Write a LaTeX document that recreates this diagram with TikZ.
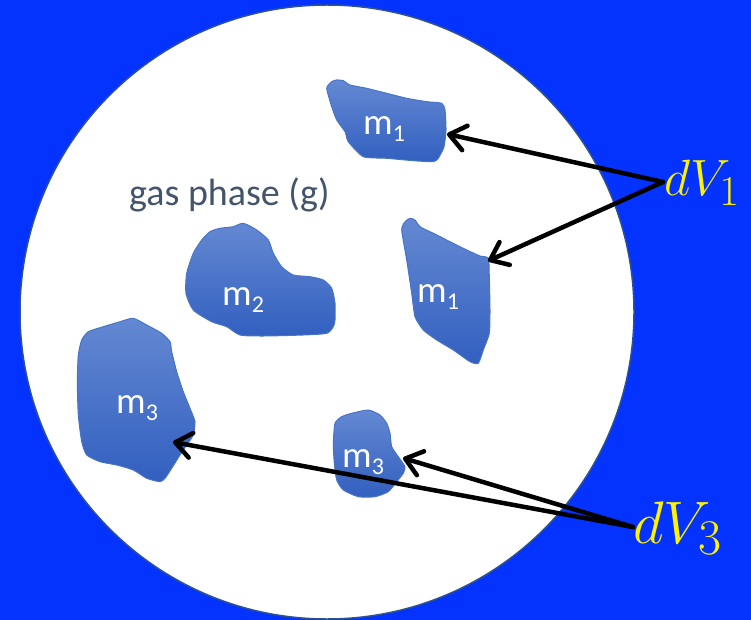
\documentclass[tikz,border=0pt]{standalone}
\usepackage{fontspec}
\newfontfamily\calib{Carlito}
\usetikzlibrary{arrows.meta}
\definecolor{bg}{RGB}{4,50,255}
\definecolor{circedge}{RGB}{47,82,143}
\definecolor{blobtop}{RGB}{100,136,210}
\definecolor{blobbot}{RGB}{50,96,192}
\definecolor{blobedge}{RGB}{72,116,198}
\definecolor{gastext}{RGB}{68,84,106}
\newcommand{\msb}[1]{m\raisebox{-7pt}{\fontsize{24}{24}\selectfont #1}}
\begin{document}
\begin{tikzpicture}[x=1pt,y=-1pt,
  blob/.style={draw=blobedge, line width=1pt, top color=blobtop, bottom color=blobbot},
  lbl/.style={anchor=base west, inner sep=0pt, text=white, font=\calib\fontsize{37}{37}\selectfont},
  ptr/.style={line width=4.5pt, line cap=round, -{Straight Barb[length=16pt,width=25pt,round]}},
  dv/.style={anchor=base west, inner sep=0pt, text=yellow, font=\fontsize{24.88}{30}\selectfont}]
\fill[bg] (0,0) rectangle (751,620);
\useasboundingbox (0,0) rectangle (751,620);
\draw[fill=white, draw=circedge, line width=1.5pt] (327,312) circle[radius=307];

% blob: top m1
\shade[blob] plot[smooth cycle, tension=0.35] coordinates {
 (326.7,88.3) (331.7,81.7) (336.7,80) (343.3,80.7) (350,85) (366.7,88.3)
 (386.7,93.3) (406.7,98.3) (426.7,101.7) (441.7,103.3) (445,110) (446,130)
 (444,146.7) (438.3,158.3) (433.3,161.7) (413.3,160.7) (386.7,158.3)
 (363.3,156.7) (348.3,141.7) (345,131.7) (336.7,120) (331.7,106.7)};
% blob: right m1
\shade[blob] plot[smooth cycle, tension=0.35] coordinates {
 (410,218.3) (415,220) (420,226.7) (433.3,233.3) (450,241.7) (466.7,250)
 (480,256) (488.3,258.3) (489.3,276.7) (490,310) (489.3,333.3) (483.3,350)
 (478.3,363.3) (470,361.7) (453.3,350) (436.7,340) (423.3,330) (415,316.7)
 (411.7,293.3) (406.7,260) (401.7,230) (405,221.7)};
% blob: m2
\shade[blob] plot[smooth cycle, tension=0.4] coordinates {
 (210,231.7) (220,228.3) (233.3,226.7) (243.3,223.3) (256.7,230) (268.3,240)
 (273.3,253.3) (281.7,266.7) (293.3,275) (310,276.7) (323.3,280) (331.7,288.3)
 (335,303.3) (335,320) (333.3,326.7) (326.7,333.3) (303.3,335) (263.3,336)
 (240,335) (226.7,326.7) (211.7,321.7) (193.3,310) (186,293.3) (186.7,273.3)
 (193.3,253.3) (201.7,240)};
% blob: big m3
\shade[blob] plot[smooth cycle, tension=0.35] coordinates {
 (81.7,340) (88.3,331.7) (103.3,326.7) (120,321.7) (133.3,318.3) (146.7,325)
 (161.7,333.3) (170,341.7) (171.7,351.7) (176.7,371.7) (183.3,391.7) (190,408.3)
 (195,421.7) (193.3,435) (186.7,445) (180,455) (171.7,468.3) (165,478.3)
 (160,481.7) (146.7,478.3) (133.3,470) (116.7,465) (100,461.7) (86.7,455)
 (81.7,441.7) (78.3,415) (77.3,381.7) (78.3,355)};
% blob: small m3
\shade[blob] plot[smooth cycle, tension=0.35] coordinates {
 (335,423.3) (341.7,416.7) (351.7,413.3) (368.3,410) (380,415) (386.7,423.3)
 (390,433.3) (391.7,446.7) (398.3,456.7) (405,466.7) (403.3,473.3) (396.7,481.7)
 (388.3,491.7) (375,496.7) (358.3,496.7) (343.3,490) (336.7,480) (334.3,463.3)
 (333.3,443.3)};

% labels
\node[lbl] (la) at (363,135) {\msb{1}};
\node[lbl] (lb) at (417,302) {\msb{1}};
\node[lbl] (lc) at (222,305) {\msb{2}};
\node[lbl] (ld) at (116,413) {\msb{3}};
\node[lbl] (le) at (342,467) {\msb{3}};
\node[anchor=base west, inner sep=0pt, text=gastext, font=\calib\fontsize{38}{38}\selectfont] (gas) at (129,205) {gas phase (g)};

\node[dv, scale=2.05] (dv1) at (664,196) {$dV_1$};
\node[dv, scale=2.41] (dv3) at (633,543) {$dV_3$};

% arrow endpoints
\coordinate (s1) at (663,182);
\coordinate (s3) at (633,527);
\coordinate (t1) at (447,134);
\coordinate (t2) at (488,261);
\coordinate (t3) at (403,458);
\coordinate (t4) at (173,442);

\draw[ptr] (s1) -- (t1);
\draw[ptr] (s1) -- (t2);
\draw[ptr] (s3) -- (t3);
\draw[ptr] (s3) -- (t4);
\end{tikzpicture}
\end{document}
